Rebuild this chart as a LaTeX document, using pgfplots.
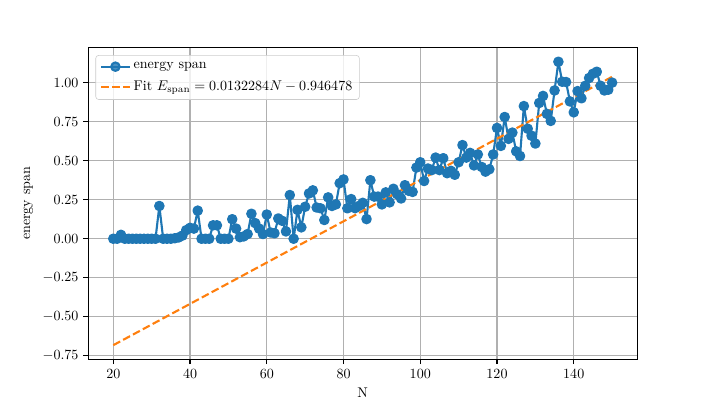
\documentclass[border=0pt]{standalone}
\usepackage{pgfplots}
\pgfplotsset{compat=1.18}
\definecolor{czero}{HTML}{1F77B4}
\definecolor{cone}{HTML}{FF7F0E}
\begin{document}
\begin{tikzpicture}
\useasboundingbox (-62.9pt,-32.5pt) rectangle (441.1pt,255.8pt);
\begin{axis}[
  at={(0,0)}, anchor=south west,
  scale only axis, width=390.6pt, height=222.1pt,
  xmin=13.5, xmax=156.5, ymin=-0.7727, ymax=1.2264,
  xtick={20,40,...,140},
  ytick={-0.75,-0.5,-0.25,0,0.25,0.5,0.75,1.0},
  yticklabel style={/pgf/number format/.cd, fixed, fixed zerofill, precision=2},
  xlabel={N}, ylabel={energy span},
  grid=major,
  major grid style={line width=0.8pt, color=black!31},
  axis line style={line width=0.8pt},
  tick style={line width=0.8pt, black},
  tick align=outside, tick pos=left,
  major tick length=3.5pt,
  legend style={at={(0.013,0.975)}, anchor=north west, draw=black!20, rounded corners=2pt, fill=white, fill opacity=0.8, text opacity=1, inner xsep=3pt, inner ysep=3pt, row sep=3pt},
  legend cell align=left,
  legend image code/.code={\draw[mark repeat=2,mark phase=2,#1] plot coordinates {(0cm,0cm) (0.36cm,0cm) (0.72cm,0cm)};},
]
\addplot[czero, line width=1.5pt, line join=round, mark=*, mark size=3pt, mark options={solid, fill=czero, draw=czero}] coordinates {
(20,0.0) (21,0.0) (22,0.025) (23,0.0) (24,0.0) (25,0.0) (26,0.0) (27,0.0) (28,0.0) (29,0.0)
(30,0.0) (31,0.0) (32,0.21) (33,0.0) (34,0.0) (35,0.0) (36,0.003) (37,0.008) (38,0.02) (39,0.055)
(40,0.07) (41,0.065) (42,0.18) (43,0.0) (44,0.0) (45,0.0) (46,0.086) (47,0.086) (48,0.0) (49,0.0)
(50,0.0) (51,0.125) (52,0.065) (53,0.01) (54,0.015) (55,0.03) (56,0.16) (57,0.10) (58,0.065) (59,0.03)
(60,0.155) (61,0.04) (62,0.035) (63,0.13) (64,0.115) (65,0.047) (66,0.28) (67,0.0) (68,0.185) (69,0.073)
(70,0.205) (71,0.29) (72,0.31) (73,0.20) (74,0.195) (75,0.12) (76,0.265) (77,0.21) (78,0.22) (79,0.356)
(80,0.38) (81,0.195) (82,0.254) (83,0.196) (84,0.21) (85,0.23) (86,0.126) (87,0.375) (88,0.27) (89,0.27)
(90,0.22) (91,0.297) (92,0.233) (93,0.32) (94,0.285) (95,0.258) (96,0.343) (97,0.307) (98,0.30) (99,0.456)
(100,0.49) (101,0.37) (102,0.45) (103,0.44) (104,0.52) (105,0.44) (106,0.516) (107,0.42) (108,0.435) (109,0.41)
(110,0.49) (111,0.60) (112,0.52) (113,0.55) (114,0.47) (115,0.54) (116,0.46) (117,0.43) (118,0.445) (119,0.54)
(120,0.71) (121,0.595) (122,0.78) (123,0.64) (124,0.68) (125,0.56) (126,0.53) (127,0.85) (128,0.705) (129,0.66)
(130,0.61) (131,0.87) (132,0.915) (133,0.80) (134,0.755) (135,0.95) (136,1.134) (137,1.006) (138,1.004) (139,0.88)
(140,0.81) (141,0.946) (142,0.90) (143,0.98) (144,1.03) (145,1.057) (146,1.07) (147,0.98) (148,0.95) (149,0.955)
(150,1.00)
};
\addlegendentry{energy span}
\addplot[cone, line width=1.5pt, dash pattern=on 5.55pt off 2.4pt, no marks] coordinates {
(20,-0.681910) (150,1.037782)
};
\addlegendentry{Fit $E_{\rm span} = 0.0132284N - 0.946478$}
\end{axis}
\end{tikzpicture}
\end{document}
